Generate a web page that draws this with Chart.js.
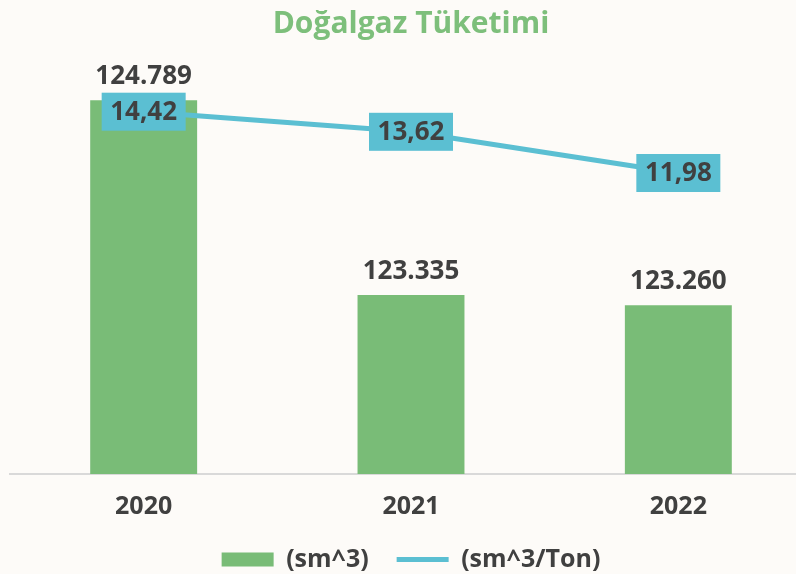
<!DOCTYPE html>
<html>
<head>
<meta charset="utf-8">
<script src="https://cdn.jsdelivr.net/npm/chart.js@4.4.0/dist/chart.umd.min.js"></script>
<style>
  html, body { margin: 0; padding: 0; background: #fdfbf8; overflow: hidden; }
  #wrap { position: relative; width: 812px; height: 574px; }
</style>
</head>
<body>
<div id="wrap"><canvas id="c"></canvas></div>
<script>
const categories = ['2020', '2021', '2022'];
const consumption = [124789, 123335, 123260];   // (sm^3)
const intensity = [14.42, 13.62, 11.98];         // (sm^3/Ton)
const seriesNames = ['(sm^3)', '(sm^3/Ton)'];
const titleText = 'Doğalgaz Tüketimi';

const GREEN = '#79bc77';
const BLUE = '#5bbfd2';
const DARK = '#404040';
const FONT = "'Open Sans', 'DejaVu Sans', sans-serif";

function fmtThousands(v) {
  return String(Math.round(v)).replace(/\B(?=(\d{3})+(?!\d))/g, '.');
}
function fmtDecimal(v) {
  return v.toFixed(2).replace('.', ',');
}

const labelPlugin = {
  id: 'valueLabels',
  afterDatasetsDraw(chart) {
    const ctx = chart.ctx;
    ctx.save();
    ctx.font = "bold 26px " + FONT;
    ctx.textAlign = 'center';
    ctx.textBaseline = 'middle';
    const barMeta = chart.getDatasetMeta(0);
    barMeta.data.forEach((el, i) => {
      ctx.fillStyle = DARK;
      ctx.fillText(fmtThousands(chart.data.datasets[0].data[i]), el.x, el.y - 24);
    });
    const lineMeta = chart.getDatasetMeta(1);
    lineMeta.data.forEach((el, i) => {
      const w = 84, h = 38;
      ctx.fillStyle = BLUE;
      ctx.fillRect(el.x - w / 2, el.y - h / 2, w, h);
      ctx.fillStyle = DARK;
      ctx.fillText(fmtDecimal(chart.data.datasets[1].data[i]), el.x, el.y + 1);
    });
    ctx.restore();
  }
};

new Chart(document.getElementById('c'), {
  type: 'bar',
  data: {
    labels: categories,
    datasets: [
      {
        type: 'bar',
        label: seriesNames[0],
        data: consumption,
        backgroundColor: GREEN,
        borderWidth: 0,
        yAxisID: 'y',
        barPercentage: 0.8,
        categoryPercentage: 0.5,
        pointStyle: 'rect',
        order: 2
      },
      {
        type: 'line',
        label: seriesNames[1],
        data: intensity,
        borderColor: BLUE,
        backgroundColor: BLUE,
        borderWidth: 5,
        borderCapStyle: 'round',
        pointRadius: 0,
        pointHoverRadius: 0,
        pointStyle: 'line',
        yAxisID: 'y1',
        tension: 0,
        order: 1
      }
    ]
  },
  options: {
    responsive: true,
    maintainAspectRatio: false,
    animation: false,
    events: [],
    layout: { padding: { left: 10, right: 0, top: 6, bottom: -8 } },
    plugins: {
      title: {
        display: true,
        text: titleText,
        color: '#7dbf7b',
        font: { family: FONT, size: 30, weight: 'bold' },
        padding: { top: 0, bottom: 30 }
      },
      legend: {
        display: true,
        position: 'bottom',
        labels: {
          usePointStyle: true,
          pointStyleWidth: 52,
          boxHeight: 14,
          color: DARK,
          padding: 28,
          font: { family: FONT, size: 25, weight: 'bold' },
          sort: (a, b) => a.datasetIndex - b.datasetIndex
        }
      },
      tooltip: { enabled: false }
    },
    scales: {
      x: {
        grid: { display: false, drawTicks: false },
        border: { display: true, color: '#d9d9d9', width: 2 },
        ticks: {
          color: DARK,
          padding: 18,
          font: { family: FONT, size: 25, weight: 'bold' }
        },
        afterFit: (s) => { s.height = s.height - 21; }
      },
      y: {
        display: false,
        min: 122000,
        max: 125000
      },
      y1: {
        display: false,
        position: 'right',
        min: 0,
        max: 16
      }
    }
  },
  plugins: [labelPlugin]
});
</script>
</body>
</html>
